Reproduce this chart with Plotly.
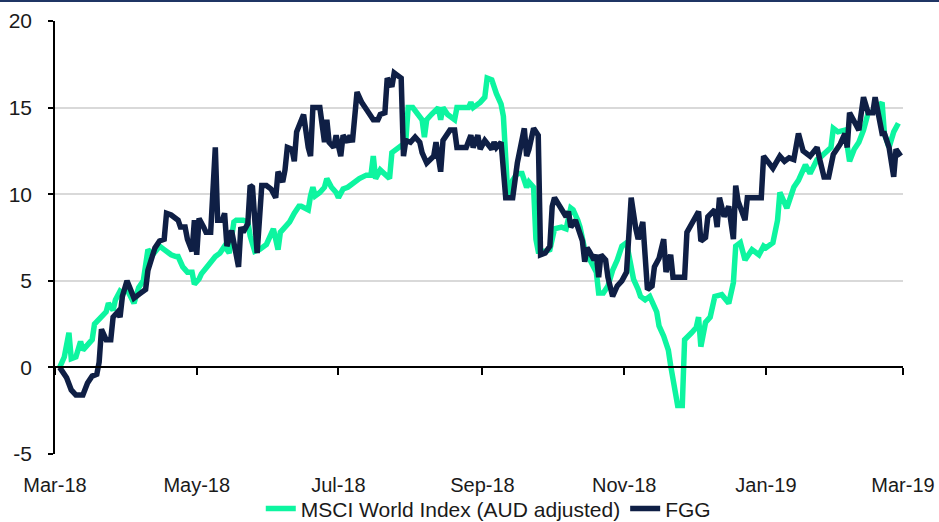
import pandas as pd
import plotly.graph_objects as go

BASE = "2018-03-01"

# days since 2018-03-01 and values (%)
fgg_days = [2, 5, 7, 9, 12, 14, 16, 18, 19, 20, 22, 24, 25, 27, 28, 29, 31, 32, 34, 37,
            39, 40, 42, 43, 45, 47, 48, 50, 53, 54, 56, 57, 59, 60, 61, 62, 64, 65, 67, 69,
            70, 72, 73, 74, 76, 77, 79, 80, 81, 83, 84, 85, 87, 89, 91, 93, 95, 96, 98, 99,
            100, 102, 103, 104, 106, 107, 109, 110, 111, 114, 116, 117, 118, 120, 121, 123, 124, 126, 127, 128,
            130, 132, 134, 137, 139, 140, 142, 143, 145, 146, 147, 149, 150, 151, 153, 155, 157, 158, 160, 162,
            163, 164, 166, 167, 170, 172, 173, 175, 177, 179, 180, 182, 183, 185, 188, 189, 190, 192, 194, 196,
            197, 199, 202, 203, 204, 206, 208, 209, 211, 213, 214, 215, 217, 219, 220, 221, 222, 224, 226, 227,
            228, 229, 230, 232, 233, 234, 235, 237, 238, 240, 242, 244, 246, 247, 248, 250, 251, 253, 254, 255,
            257, 258, 260, 262, 263, 265, 266, 268, 271, 272, 275, 277, 278, 280, 281, 284, 285, 286, 288, 290,
            292, 293, 294, 297, 298, 300, 304, 305, 307, 309, 312, 314, 316, 318, 320, 321, 322, 325, 328, 329,
            331, 333, 335, 337, 338, 340, 341, 342, 344, 346, 348, 350, 352, 353, 356, 357, 359, 361, 362, 364]
fgg_vals = [0.0, -0.6, -1.3, -1.6, -1.6, -0.9, -0.5, -0.4, 0.3, 2.2, 1.6, 1.6, 2.9, 3.2, 2.9, 4.1, 5.0, 4.7, 4.0, 4.3,
            4.5, 5.6, 6.6, 6.9, 7.3, 7.4, 8.9, 8.8, 8.5, 8.1, 8.1, 7.4, 6.7, 8.5, 6.5, 8.6, 8.1, 7.8, 7.8, 12.7,
            8.5, 8.5, 8.9, 7.0, 7.9, 7.3, 5.8, 8.1, 7.8, 8.3, 10.5, 10.4, 6.6, 10.5, 10.5, 10.3, 9.8, 11.3, 10.7, 11.4,
            12.7, 12.6, 11.9, 13.6, 14.2, 14.6, 12.7, 12.2, 15.0, 15.0, 13.0, 14.3, 13.0, 12.7, 13.4, 12.2, 13.4, 13.0, 13.4, 13.0,
            15.9, 15.3, 14.9, 14.3, 14.3, 14.6, 14.7, 16.7, 16.2, 17.0, 16.9, 16.7, 12.2, 13.1, 13.0, 13.3, 13.0, 12.4, 11.8, 12.1,
            12.2, 13.0, 11.3, 13.1, 13.7, 13.7, 12.7, 12.7, 12.7, 13.4, 12.7, 13.4, 12.6, 13.1, 12.6, 13.0, 12.7, 13.0, 9.8, 9.8,
            9.8, 11.8, 13.8, 12.2, 12.6, 13.8, 13.4, 6.5, 6.6, 7.0, 9.3, 9.8, 9.3, 8.9, 8.7, 9.0, 8.1, 8.5, 7.8, 7.3,
            6.1, 6.9, 6.7, 6.2, 6.5, 5.2, 6.5, 6.2, 5.2, 4.1, 4.7, 5.0, 5.5, 8.4, 9.8, 8.0, 7.4, 8.4, 6.2, 4.5,
            4.7, 5.8, 6.3, 7.4, 5.5, 6.5, 5.2, 5.2, 5.2, 7.8, 8.5, 9.0, 7.3, 7.5, 8.7, 9.1, 8.1, 9.8, 8.7, 9.3,
            7.4, 10.5, 9.6, 8.5, 9.8, 9.8, 9.8, 12.2, 11.8, 11.5, 12.2, 11.9, 12.1, 12.0, 13.5, 12.9, 12.5, 12.2, 12.7, 12.1,
            11.0, 11.0, 12.3, 12.7, 12.9, 13.5, 12.7, 14.7, 14.2, 13.7, 15.6, 14.7, 14.7, 15.6, 13.5, 13.5, 12.7, 11.0, 12.6, 12.2]

msci_days = [2, 4, 6, 7, 9, 11, 12, 14, 16, 17, 19, 22, 23, 25, 26, 28, 29, 31, 34, 36,
             38, 40, 42, 44, 45, 47, 50, 52, 53, 55, 57, 59, 60, 62, 63, 66, 69, 71, 73, 75,
             77, 78, 81, 83, 84, 86, 88, 91, 93, 94, 96, 97, 99, 101, 103, 105, 106, 109, 110, 111,
             112, 114, 116, 117, 119, 121, 122, 124, 126, 129, 131, 134, 136, 137, 138, 140, 142, 144, 145, 147,
             150, 151, 152, 154, 156, 158, 159, 160, 162, 165, 166, 167, 169, 172, 173, 175, 178, 179, 180, 183,
             185, 186, 188, 190, 192, 193, 194, 195, 196, 197, 199, 201, 203, 204, 206, 207, 208, 211, 213, 215,
             218, 220, 222, 223, 225, 226, 228, 231, 233, 234, 236, 238, 240, 242, 244, 246, 248, 249, 251, 252,
             254, 256, 259, 260, 262, 264, 265, 267, 268, 270, 271, 274, 276, 277, 278, 280, 282, 284, 287, 290,
             292, 293, 295, 297, 300, 303, 305, 306, 309, 311, 312, 315, 318, 320, 322, 323, 325, 328, 330, 332,
             334, 335, 337, 340, 342, 344, 346, 348, 350, 353, 356, 357, 359, 361, 363]
msci_vals = [0.0, 0.6, 2.0, 0.5, 0.6, 1.5, 1.0, 1.3, 1.6, 2.5, 2.8, 3.2, 3.7, 3.3, 3.9, 4.4, 4.3, 4.5, 3.7, 4.6,
             5.0, 6.8, 6.5, 6.8, 7.0, 6.8, 6.5, 6.4, 6.4, 5.8, 5.5, 5.5, 4.8, 5.1, 5.4, 5.9, 6.4, 6.6, 7.0, 6.6,
             8.4, 8.5, 8.5, 8.4, 7.6, 6.7, 6.8, 7.1, 7.6, 8.0, 6.8, 7.8, 8.1, 8.4, 8.9, 9.3, 9.3, 9.1, 9.9, 10.4,
             9.9, 10.1, 10.4, 10.9, 10.4, 10.1, 9.8, 10.3, 10.4, 10.7, 10.9, 11.1, 11.1, 12.2, 10.9, 11.4, 11.1, 10.9, 12.4, 12.6,
             12.9, 13.1, 15.0, 15.0, 14.6, 14.3, 13.3, 14.3, 14.6, 15.0, 14.3, 15.0, 14.6, 14.3, 15.0, 15.0, 15.0, 15.3, 15.0, 15.3,
             15.6, 16.7, 16.6, 15.8, 15.2, 14.5, 12.0, 9.7, 10.4, 10.8, 11.2, 11.2, 10.4, 10.7, 10.4, 7.4, 6.7, 6.7, 6.8, 8.0,
             8.1, 8.0, 9.2, 9.1, 8.5, 8.1, 6.8, 6.0, 5.5, 4.3, 4.3, 4.7, 5.6, 6.2, 7.0, 7.2, 5.5, 5.1, 4.5, 4.1,
             3.9, 4.1, 3.2, 2.4, 1.8, 1.0, 0.1, -1.4, -2.2, -2.2, 1.6, 2.0, 2.3, 2.9, 1.2, 2.6, 2.9, 4.1, 4.2, 3.7,
             4.9, 7.0, 7.2, 6.2, 6.8, 6.5, 7.0, 6.9, 7.2, 8.5, 10.1, 9.2, 10.4, 10.8, 11.3, 11.7, 11.2, 12.0, 12.2, 12.5,
             12.7, 13.8, 13.6, 13.7, 11.9, 12.6, 13.0, 13.7, 14.7, 14.8, 15.3, 13.5, 12.7, 13.6, 14.1]

series_names = ["MSCI World Index (AUD adjusted)", "FGG"]
series_colors = ["#0DF5A0", "#0F1F45"]
x_tick_start, x_tick_end = "2018-03-01", "2019-03-01"
y_ticks = [-5, 0, 5, 10, 15, 20]
y_tick_labels = ["-5", "0", "5", "10", "15", "20"]

base = pd.Timestamp(BASE)
fgg_dates = base + pd.to_timedelta(fgg_days, unit="D")
msci_dates = base + pd.to_timedelta(msci_days, unit="D")

FONT = "Liberation Sans, Arial, sans-serif"

fig = go.Figure()
fig.add_trace(go.Scatter(x=msci_dates, y=msci_vals, mode="lines", name=series_names[0],
                         line=dict(color=series_colors[0], width=5.5)))
fig.add_trace(go.Scatter(x=fgg_dates, y=fgg_vals, mode="lines", name=series_names[1],
                         line=dict(color=series_colors[1], width=5.5)))
# invisible trace to carry the zero-line axis
fig.add_trace(go.Scatter(x=[x_tick_start, x_tick_end], y=[0, 0], xaxis="x2", mode="lines",
                         line=dict(color="rgba(0,0,0,0)"), showlegend=False, hoverinfo="skip"))

fig.update_layout(
    width=939, height=522,
    margin=dict(l=55, r=36, t=21, b=68, autoexpand=False),
    paper_bgcolor="white", plot_bgcolor="white",
    font=dict(family=FONT, size=20, color="#1a1a1a"),
    xaxis=dict(type="date", range=[x_tick_start, x_tick_end], tick0=x_tick_start, dtick="M2",
               tickformat="%b-%y", showgrid=False, zeroline=False, showline=False, automargin=False,
               ticks="outside", ticklen=13, tickcolor="rgba(0,0,0,0)"),
    xaxis2=dict(type="date", overlaying="x", matches="x", anchor="free", position=0.2,
                tick0=x_tick_start, dtick="M2", showticklabels=False, showgrid=False, zeroline=False,
                showline=True, linecolor="black", linewidth=1.5, automargin=False,
                ticks="outside", ticklen=7, tickwidth=1.5, tickcolor="black"),
    yaxis=dict(range=[-5, 20], tickvals=y_ticks, ticktext=y_tick_labels, showgrid=True,
               gridcolor="#d9d9d9", gridwidth=1.5, automargin=False,
               zeroline=False, showline=True, linecolor="black", linewidth=1.5,
               ticks="outside", ticklen=5, tickwidth=1.5, tickcolor="black", ticklabelstandoff=12,
               tickfont=dict(size=21)),
    legend=dict(orientation="h", xref="container", x=0.52, xanchor="center",
                yref="container", y=0.025, yanchor="middle",
                font=dict(size=21), bgcolor="rgba(0,0,0,0)", itemwidth=30, tracegroupgap=0),
    shapes=[dict(type="line", xref="paper", yref="paper", x0=-0.07, x1=1.05, y0=1.046, y1=1.046,
                 line=dict(color="#1F3564", width=2))],
    showlegend=True,
)

fig.write_html("out.html", config={"displayModeBar": False},
               post_script="document.body.style.margin='0';")
